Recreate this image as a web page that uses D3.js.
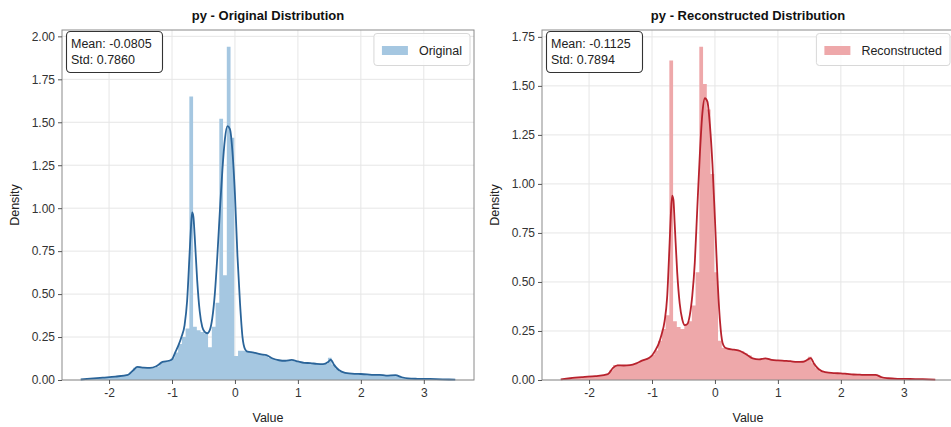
<!DOCTYPE html>
<html>
<head>
<meta charset="utf-8">
<script src="https://cdn.jsdelivr.net/npm/d3@7"></script>
<style>
  body { margin: 0; background: #fff; }
  svg { display: block; font-family: "Liberation Sans", Arial, sans-serif; }
</style>
</head>
<body>
<svg id="chart" width="951" height="427"></svg>
<script>
// Histogram bin range (100 equal bins) and density per bin
const histRange = [-2.45, 3.5];

const origHist = [
  0.004, 0.006, 0.008, 0.009, 0.011, 0.012, 0.014, 0.016, 0.018, 0.020,
  0.022, 0.025, 0.028, 0.045, 0.072, 0.080, 0.074, 0.070, 0.070, 0.072,
  0.078, 0.100, 0.108, 0.110, 0.125, 0.160, 0.210, 0.250, 0.300, 1.650,
  0.310, 0.290, 0.280, 0.270, 0.190, 0.310, 0.450, 1.520, 0.610, 1.940,
  1.410, 0.140, 0.170, 0.170, 0.165, 0.160, 0.158, 0.150, 0.148, 0.140,
  0.130, 0.122, 0.115, 0.112, 0.110, 0.116, 0.114, 0.108, 0.104, 0.100,
  0.099, 0.097, 0.095, 0.093, 0.090, 0.095, 0.130, 0.090, 0.065, 0.048,
  0.042, 0.038, 0.036, 0.035, 0.035, 0.034, 0.033, 0.031, 0.030, 0.030,
  0.029, 0.027, 0.026, 0.028, 0.027, 0.018, 0.012, 0.009, 0.008, 0.007,
  0.007, 0.006, 0.006, 0.005, 0.005, 0.004, 0.004, 0.003, 0.003, 0.002
];

const reconHist = [
  0.004, 0.007, 0.009, 0.010, 0.012, 0.013, 0.015, 0.017, 0.018, 0.020,
  0.022, 0.024, 0.028, 0.050, 0.076, 0.078, 0.074, 0.074, 0.076, 0.080,
  0.086, 0.098, 0.106, 0.112, 0.128, 0.150, 0.200, 0.260, 0.330, 1.630,
  0.300, 0.270, 0.260, 0.280, 0.300, 0.380, 0.550, 1.700, 1.510, 1.380,
  1.050, 0.550, 0.200, 0.165, 0.160, 0.158, 0.154, 0.150, 0.146, 0.135,
  0.125, 0.112, 0.106, 0.105, 0.110, 0.108, 0.103, 0.100, 0.099, 0.098,
  0.097, 0.096, 0.094, 0.092, 0.093, 0.100, 0.118, 0.085, 0.060, 0.045,
  0.040, 0.037, 0.035, 0.035, 0.034, 0.034, 0.032, 0.030, 0.028, 0.028,
  0.027, 0.026, 0.026, 0.027, 0.026, 0.016, 0.011, 0.009, 0.007, 0.006,
  0.006, 0.005, 0.005, 0.005, 0.004, 0.004, 0.004, 0.003, 0.003, 0.002
];

// Kernel density estimate, sampled on a shared grid
const kdeGrid = [
  -2.45, -2.3, -2.1, -1.9, -1.7, -1.62, -1.55, -1.45, -1.35, -1.25,
  -1.15, -1.05, -1.0, -0.95, -0.9, -0.85, -0.8, -0.76, -0.72, -0.70,
  -0.68, -0.66, -0.64, -0.6, -0.56, -0.52, -0.48, -0.44, -0.4, -0.36,
  -0.32, -0.28, -0.24, -0.2, -0.16, -0.12, -0.08, -0.04, 0.0, 0.04,
  0.08, 0.12, 0.16, 0.2, 0.3, 0.4, 0.5, 0.6, 0.7, 0.8,
  0.9, 1.0, 1.1, 1.2, 1.3, 1.4, 1.48, 1.52, 1.58, 1.65,
  1.75, 1.9, 2.0, 2.1, 2.2, 2.3, 2.4, 2.55, 2.65, 2.75,
  2.9, 3.1, 3.3, 3.5
];

const origKde = [
  0.003, 0.008, 0.014, 0.020, 0.030, 0.055, 0.076, 0.072, 0.070, 0.080,
  0.105, 0.112, 0.120, 0.160, 0.200, 0.250, 0.320, 0.460, 0.740, 0.880,
  0.975, 0.950, 0.840, 0.580, 0.400, 0.310, 0.280, 0.272, 0.290, 0.360,
  0.500, 0.720, 0.980, 1.220, 1.400, 1.477, 1.460, 1.330, 1.080, 0.720,
  0.450, 0.250, 0.180, 0.165, 0.160, 0.150, 0.145, 0.125, 0.115, 0.112,
  0.117, 0.108, 0.100, 0.098, 0.094, 0.092, 0.105, 0.118, 0.085, 0.058,
  0.042, 0.036, 0.035, 0.033, 0.030, 0.030, 0.026, 0.028, 0.016, 0.009,
  0.007, 0.006, 0.004, 0.002
];

const reconKde = [
  0.003, 0.009, 0.015, 0.020, 0.030, 0.062, 0.075, 0.074, 0.076, 0.085,
  0.100, 0.112, 0.125, 0.150, 0.180, 0.230, 0.300, 0.420, 0.700, 0.850,
  0.940, 0.920, 0.800, 0.550, 0.390, 0.310, 0.280, 0.285, 0.330, 0.430,
  0.600, 0.880, 1.150, 1.360, 1.437, 1.420, 1.300, 1.100, 0.820, 0.520,
  0.300, 0.190, 0.165, 0.160, 0.155, 0.148, 0.130, 0.110, 0.105, 0.110,
  0.103, 0.100, 0.098, 0.096, 0.092, 0.093, 0.105, 0.112, 0.080, 0.055,
  0.040, 0.035, 0.034, 0.031, 0.028, 0.027, 0.026, 0.026, 0.014, 0.009,
  0.006, 0.005, 0.004, 0.002
];

const xTicks = [-2, -1, 0, 1, 2, 3];
const origYTicks = [0, 0.25, 0.5, 0.75, 1.0, 1.25, 1.5, 1.75, 2.0];
const reconYTicks = [0, 0.25, 0.5, 0.75, 1.0, 1.25, 1.5, 1.75];

const panels = [
  { title: "py - Original Distribution", name: "Original", hist: origHist, kde: origKde,
    yTicks: origYTicks, stats: ["Mean: -0.0805", "Std: 0.7860"],
    fill: "#a5c7e1", line: "#2a6499", left: 62 },
  { title: "py - Reconstructed Distribution", name: "Reconstructed", hist: reconHist, kde: reconKde,
    yTicks: reconYTicks, stats: ["Mean: -0.1125", "Std: 0.7894"],
    fill: "#eea8aa", line: "#b8222d", left: 542 }
];

const svg = d3.select("#chart");
const plotW = 412, plotTop = 30, plotBottom = 380;
const nBins = origHist.length;
const binW = (histRange[1] - histRange[0]) / nBins;
const pad = (histRange[1] - histRange[0]) * 0.05;

panels.forEach(p => {
  const g = svg.append("g");
  const x = d3.scaleLinear()
    .domain([histRange[0] - pad, histRange[1] + pad])
    .range([p.left, p.left + plotW]);
  const y = d3.scaleLinear()
    .domain([0, d3.max(p.hist) * 1.05])
    .range([plotBottom, plotTop]);

  // grid
  g.append("g").selectAll("line").data(xTicks).join("line")
    .attr("x1", d => x(d)).attr("x2", d => x(d))
    .attr("y1", plotTop).attr("y2", plotBottom)
    .attr("stroke", "#e6e6e6").attr("stroke-width", 1);
  g.append("g").selectAll("line").data(p.yTicks).join("line")
    .attr("x1", p.left).attr("x2", p.left + plotW)
    .attr("y1", d => y(d)).attr("y2", d => y(d))
    .attr("stroke", "#e6e6e6").attr("stroke-width", 1);

  // histogram as one stepped area over the bin edges (no seams between bins)
  const edges = d3.range(nBins + 1);
  const histArea = d3.area()
    .x(i => x(histRange[0] + i * binW))
    .y0(plotBottom)
    .y1(i => y(p.hist[Math.min(i, nBins - 1)]))
    .curve(d3.curveStepAfter);
  g.append("path").datum(edges)
    .attr("d", histArea)
    .attr("fill", p.fill);

  // KDE line
  const line = d3.line()
    .x((d, i) => x(kdeGrid[i]))
    .y(d => y(d))
    .curve(d3.curveMonotoneX);
  g.append("path").datum(p.kde)
    .attr("d", line)
    .attr("fill", "none")
    .attr("stroke", p.line)
    .attr("stroke-width", 1.8);

  // frame
  g.append("rect")
    .attr("x", p.left).attr("y", plotTop)
    .attr("width", plotW).attr("height", plotBottom - plotTop)
    .attr("fill", "none").attr("stroke", "#8a8a8a").attr("stroke-width", 1);

  // axes
  const xAxis = g.append("g")
    .attr("transform", `translate(0,${plotBottom})`)
    .call(d3.axisBottom(x).tickValues(xTicks).tickFormat(d3.format("d")).tickSize(4).tickPadding(4));
  const yAxis = g.append("g")
    .attr("transform", `translate(${p.left},0)`)
    .call(d3.axisLeft(y).tickValues(p.yTicks).tickFormat(d3.format(".2f")).tickSize(4).tickPadding(3));
  [xAxis, yAxis].forEach(a => {
    a.select(".domain").remove();
    a.selectAll(".tick line").attr("stroke", "#555");
    a.selectAll(".tick text")
      .attr("fill", "#333")
      .style("font-size", "12px")
      .style("font-family", '"Liberation Sans", Arial, sans-serif');
  });
  xAxis.selectAll(".tick text").text(d => d < 0 ? "-" + Math.abs(d) : d);

  // titles
  g.append("text")
    .attr("x", p.left + 206).attr("y", 20)
    .attr("text-anchor", "middle")
    .style("font-size", "13px").style("font-weight", "bold")
    .attr("fill", "#111").text(p.title);
  g.append("text")
    .attr("x", p.left + 206).attr("y", 422)
    .attr("text-anchor", "middle")
    .style("font-size", "12.5px").attr("fill", "#222").text("Value");
  g.append("text")
    .attr("transform", `translate(${p.left - 43},${(plotTop + plotBottom) / 2}) rotate(-90)`)
    .attr("text-anchor", "middle")
    .style("font-size", "12.5px").attr("fill", "#222").text("Density");

  // statistics box
  const sb = g.append("g");
  sb.append("rect")
    .attr("x", p.left + 4.5).attr("y", plotTop + 1.5)
    .attr("width", 96).attr("height", 41).attr("rx", 4)
    .attr("fill", "#fff").attr("stroke", "#333").attr("stroke-width", 1.1);
  sb.selectAll("text").data(p.stats).join("text")
    .attr("x", p.left + 9).attr("y", (d, i) => plotTop + 18 + i * 16)
    .style("font-size", "12.5px").attr("fill", "#222").text(d => d);

  // legend
  const lg = g.append("g");
  const lt = lg.append("text")
    .style("font-size", "12.5px").attr("fill", "#222").text(p.name);
  const tw = lt.node().getComputedTextLength();
  const bw = 45 + tw + 8;
  const bx = p.left + plotW - 4 - bw;
  lg.insert("rect", "text")
    .attr("x", bx).attr("y", plotTop + 3.5)
    .attr("width", bw).attr("height", 32).attr("rx", 3)
    .attr("fill", "#fff").attr("fill-opacity", 0.8)
    .attr("stroke", "#d8d8d8").attr("stroke-width", 1);
  lg.insert("rect", "text")
    .attr("x", bx + 8).attr("y", plotTop + 16)
    .attr("width", 26).attr("height", 9)
    .attr("fill", p.fill);
  lt.attr("x", bx + 45).attr("y", plotTop + 25);
});
</script>
</body>
</html>
